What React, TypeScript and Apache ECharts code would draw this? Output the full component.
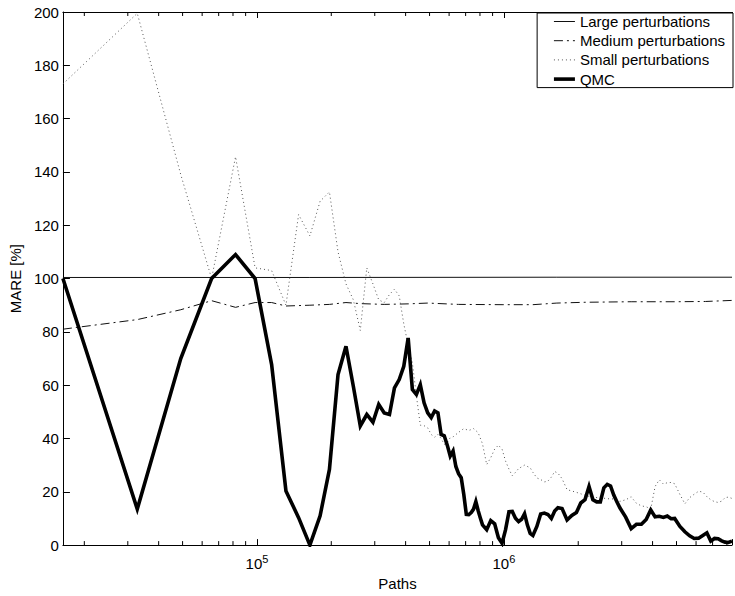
import React, { useEffect, useRef } from "react";
import * as echarts from "echarts";

// Every run is measured in batches of 16384 paths.
const PATHS_PER_BATCH = 16384;

const largeBatches = [1, 10, 100, 512];
const largeMare = [100.4, 100.4, 100.5, 100.5];

const mediumBatches = [1, 2, 3, 4, 5, 6, 7, 8, 10, 12, 14, 16, 20, 25, 30, 40, 60, 80, 100, 130, 200, 300, 400, 512];
const mediumMare = [81, 84.6, 88.3, 91.7, 89.2, 91, 91, 89.7, 90, 90.3, 91, 90.6, 90.3, 90.5, 90.8, 90.3, 90.2, 90.2, 90.8, 91.1, 91.3, 91.3, 91.4, 91.8];

const smallBatches = [
  1, 2, 3, 4, 5, 6, 7, 8, 9, 10, 11, 12, 13, 14, 15, 16, 17, 18, 19, 20,
  21, 22, 23, 24, 25, 26, 27, 28, 29, 30, 31, 32, 33, 34, 35, 36, 37, 38,
  40, 42, 44, 46, 48, 50, 52, 54, 56, 58, 60, 62, 64, 66, 68, 70,
  74, 78, 80, 83, 86, 89, 92, 95, 98, 101, 105, 110, 115, 120,
  130, 140, 150, 160, 170, 180, 190, 200, 210, 220, 230, 240, 250, 260, 270, 280, 290, 300,
  315, 330, 345, 360, 375, 390, 405, 420, 435, 450, 465, 480, 495, 512,
];
const smallMare = [
  173, 199.5, 139, 100, 145.7, 104, 103, 90, 124, 116, 129, 132.5, 110, 98, 92, 80.5, 104, 98, 92, 91,
  94, 96, 93.5, 83, 75, 68.4, 56, 45, 44.8, 44, 41.5, 40.5, 41.5, 40, 37.8, 38.5, 40.3, 40.6,
  42.3, 43.7, 43, 43.7, 42.2, 38, 30.2, 32.8, 36, 37.5, 36, 31.5, 28.5, 26, 27.3, 28.7,
  30, 29, 27.3, 25.2, 24.6, 23.7, 24, 25.5, 27.6, 27, 24.9, 20.8, 20.3, 19.8,
  18.7, 17.9, 17.8, 17.4, 17.3, 16.4, 17, 18.1, 15.7, 14.7, 14.4, 13.5, 22, 24.5, 22.9, 23.4, 23.5, 23,
  19, 15.5, 17.8, 19.1, 20.2, 19.9, 18.2, 17, 16.3, 16, 16.5, 17.8, 18, 17.5,
];

const qmcBatches = [
  1, 2, 3, 4, 5, 6, 7, 8, 9, 10, 11, 12, 13, 14, 15, 16, 17, 18, 19, 20,
  21, 22, 23, 24, 25, 26, 27, 28, 29, 30, 31, 32, 33, 34, 35, 36, 37, 38, 39, 40,
  41, 42, 43, 44, 45, 46, 47, 48, 49, 50,
  52, 54, 56, 58, 60, 62, 64, 66, 68, 70, 72, 74, 76, 78, 80,
  83, 86, 89, 92, 95, 98, 101, 105,
  110, 115, 120, 125, 130, 135, 140, 145, 150, 155, 160, 165, 170, 175, 180,
  190, 200, 210, 220, 230, 240, 250, 260, 270, 280, 290, 300,
  315, 330, 345, 360, 375, 390, 405, 420, 435, 450, 465, 480, 495, 512,
];
const qmcMare = [
  100, 13.5, 70, 100, 109, 100, 67.7, 20.3, 10.3, 0, 11, 28.4, 64, 74.6, 59.5, 44.7, 49, 46.1, 52.8, 49.6,
  49, 59, 62.1, 67.1, 77.7, 58.4, 56.5, 60.2, 53.4, 49.6, 47.8, 50.3, 49.6, 41.5, 41, 37.5, 33.4, 35.3, 29.5, 26.8,
  25.3, 19, 11.5, 11.4, 12.2, 13.5, 16.3, 13, 10.2, 7.6,
  5.8, 9.2, 8, 2.8, 0.7, 5.8, 12.5, 12.6, 10.1, 8.8, 9.7, 11.8, 7.5, 4.4, 3.6,
  7, 11.7, 12, 11.5, 10, 12.8, 14, 13.7,
  9.4, 11.1, 12.2, 15.8, 17, 22, 17, 16.2, 16.2, 21.5, 22.8, 22.2, 18.8, 16.3, 14,
  10.5, 6.2, 7.8, 7.8, 9.6, 13.2, 10.6, 10.8, 10.4, 10.9, 9.9, 10,
  7, 5, 3.5, 2.5, 2.6, 3.6, 4.6, 1.5, 2.5, 2.4, 1.6, 1.1, 1, 1.5,
];

const minorTickPaths = [
  20000, 30000, 40000, 50000, 60000, 70000, 80000, 90000,
  200000, 300000, 400000, 500000, 600000, 700000, 800000, 900000,
  2000000, 3000000, 4000000, 5000000, 6000000, 7000000, 8000000,
];

const PATHS_MIN = PATHS_PER_BATCH;
const PATHS_MAX = 512 * PATHS_PER_BATCH;
const MARE_MAX = 200;

const FONT = "'Liberation Sans', Arial, Helvetica, sans-serif";

const THIN = 1;
const THICK = 3.6;

const toPairs = (batches: number[], values: number[]) =>
  batches.map((b, i) => [b * PATHS_PER_BATCH, values[i]]);

export default function App() {
  const ref = useRef<HTMLDivElement>(null);

  useEffect(() => {
    document.body.style.margin = "0";
    const chart = echarts.init(ref.current!, null, { renderer: "svg" });

    const powerLabel = (v: number) => {
      const e = Math.log10(v);
      if (Math.abs(e - Math.round(e)) < 1e-6) return `{b|10}{s|${Math.round(e)}}`;
      return "";
    };

    chart.setOption({
      animation: false,
      backgroundColor: "#fff",
      textStyle: { fontFamily: FONT },
      grid: { left: 61, right: -6.5, top: 12, bottom: 50 },
      legend: {
        orient: "vertical",
        right: 2,
        top: 13,
        data: [
          { name: "Large perturbations", lineStyle: { width: THIN } },
          { name: "Medium perturbations", lineStyle: { width: THIN } },
          { name: "Small perturbations", lineStyle: { width: THIN } },
          { name: "QMC", lineStyle: { width: THICK } },
        ],
        backgroundColor: "#fff",
        borderColor: "#000",
        borderWidth: 1,
        borderRadius: 0,
        padding: [1, 8, 1, 15],
        itemWidth: 21,
        itemHeight: 14,
        itemGap: 4.2,
        selectedMode: false,
        // line samples only, no marker dot
        itemStyle: { opacity: 0 },
        textStyle: { fontSize: 15, fontFamily: FONT, color: "#000" },
      },
      xAxis: [
        {
          type: "log",
          logBase: 10,
          min: PATHS_MIN,
          max: PATHS_MAX,
          name: "Paths",
          nameLocation: "middle",
          nameGap: 28,
          nameTextStyle: { fontSize: 15, color: "#000", fontFamily: FONT },
          axisLine: { lineStyle: { color: "#000", width: 1 } },
          axisTick: { inside: true, length: 6, lineStyle: { color: "#000" } },
          splitLine: { show: false },
          axisLabel: {
            margin: 8,
            color: "#000",
            formatter: powerLabel,
            rich: {
              b: { fontSize: 15, lineHeight: 18, verticalAlign: "bottom", fontFamily: FONT, color: "#000" },
              s: { fontSize: 11, lineHeight: 11, verticalAlign: "top", fontFamily: FONT, color: "#000" },
            },
          },
        },
        {
          type: "log",
          logBase: 10,
          min: PATHS_MIN,
          max: PATHS_MAX,
          position: "top",
          axisLine: { lineStyle: { color: "#000", width: 1 } },
          axisTick: { inside: true, length: 6, lineStyle: { color: "#000" } },
          axisLabel: { show: false },
          splitLine: { show: false },
        },
      ],
      yAxis: {
        type: "value",
        min: 0,
        max: MARE_MAX,
        interval: 20,
        name: "MARE [%]",
        nameLocation: "middle",
        nameGap: 38,
        nameTextStyle: { fontSize: 15, color: "#000", fontFamily: FONT },
        axisLine: { show: true, lineStyle: { color: "#000", width: 1 } },
        axisTick: { show: true, inside: true, length: 7, lineStyle: { color: "#000" } },
        splitLine: { show: false },
        axisLabel: { fontSize: 15, color: "#000", margin: 4, fontFamily: FONT },
      },
      series: [
        {
          name: "Large perturbations",
          type: "line",
          data: toPairs(largeBatches, largeMare),
          symbol: "none",
          lineStyle: { color: "#111", width: THIN },
          itemStyle: { color: "#111" },
        },
        {
          name: "Medium perturbations",
          type: "line",
          data: toPairs(mediumBatches, mediumMare),
          symbol: "none",
          lineStyle: { color: "#111", width: THIN, type: [9, 4, 2, 4] },
          itemStyle: { color: "#111" },
        },
        {
          name: "Small perturbations",
          type: "line",
          data: toPairs(smallBatches, smallMare),
          symbol: "none",
          lineStyle: { color: "#555", width: THIN, type: [1, 3] },
          itemStyle: { color: "#555" },
        },
        {
          name: "QMC",
          type: "line",
          data: toPairs(qmcBatches, qmcMare),
          symbol: "none",
          lineStyle: { color: "#000", width: THICK, join: "miter" },
          itemStyle: { color: "#000" },
        },
        {
          // logarithmic sub-decade ticks on the bottom and top axes
          type: "custom",
          silent: true,
          data: minorTickPaths.map((p) => [p, 0]),
          renderItem: (_params: any, api: any) => {
            const x = api.value(0);
            const bottom = api.coord([x, 0]);
            const top = api.coord([x, MARE_MAX]);
            return {
              type: "group",
              children: [
                {
                  type: "line",
                  shape: { x1: bottom[0], y1: bottom[1], x2: bottom[0], y2: bottom[1] - 4 },
                  style: { stroke: "#000", lineWidth: 1 },
                },
                {
                  type: "line",
                  shape: { x1: top[0], y1: top[1], x2: top[0], y2: top[1] + 4 },
                  style: { stroke: "#000", lineWidth: 1 },
                },
              ],
            };
          },
        },
      ],
    });

    return () => chart.dispose();
  }, []);

  return <div ref={ref} style={{ width: 735, height: 596 }} />;
}
